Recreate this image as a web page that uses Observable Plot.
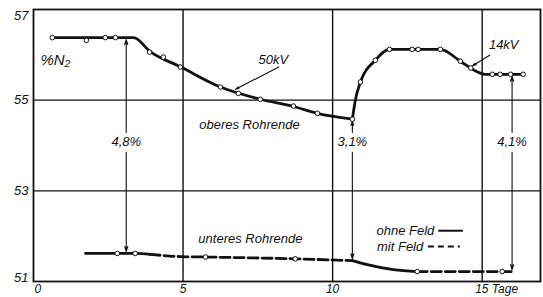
<!DOCTYPE html>
<html><head><meta charset="utf-8">
<script src="https://cdn.jsdelivr.net/npm/d3@7"></script>
<script src="https://cdn.jsdelivr.net/npm/@observablehq/plot@0.6"></script>
<style>body{margin:0;background:#fff}#chart{width:543px;height:297px}</style>
</head><body><div id="chart"></div>
<script>
// ---- data ----
const yTicks = [51, 53, 55, 57];
const xTicks = [0, 5, 10, 15];
const xTickLabels = ["0", "5", "10", "15 Tage"];
const gridDays = [5, 10, 15];
const gridN2 = [53, 55];

// upper tube end (oberes Rohrende): fitted curve, two branches
const upperFitDays = [0.63, 3.35, 3.9, 4.9, 6.25, 7.58, 8.69, 9.49, 10.66,
                      10.66, 10.76, 10.93, 11.43, 11.9, 13.6, 14.27, 14.85, 15.1, 16.37];
const upperFitN2   = [56.38, 56.38, 56.07, 55.74, 55.29, 55.02, 54.86, 54.71, 54.58,
                      54.58, 55.0, 55.4, 55.88, 56.12, 56.12, 55.86, 55.62, 55.57, 55.57];
const upperFitBranch = [1,1,1,1,1,1,1,1,1, 2,2,2,2,2,2,2,2,2,2];
// upper measured points
const upperPtDays = [0.63, 1.77, 2.4, 2.74, 3.88, 4.34, 4.91, 6.25, 6.85, 7.58, 8.69, 9.49, 10.66,
                     10.93, 11.43, 11.9, 12.66, 12.86, 13.6, 14.27, 14.62, 15.34, 15.6, 15.95, 16.37];
const upperPtN2   = [56.38, 56.32, 56.38, 56.38, 56.06, 55.95, 55.73, 55.29, 55.15, 55.02, 54.87, 54.71, 54.58,
                     55.40, 55.88, 56.12, 56.12, 56.12, 56.12, 55.86, 55.71, 55.57, 55.57, 55.57, 55.57];

// lower tube end (unteres Rohrende)
const lowerDays = [1.74, 2.8, 3.4, 3.9, 4.9, 5.75, 8.75, 10.66, 11.16, 12.03, 12.83, 15.67, 16.04];
const lowerN2   = [51.62, 51.62, 51.62, 51.6, 51.55, 51.54, 51.5, 51.46, 51.37, 51.26, 51.22, 51.22, 51.22];
const lowerPtDays = [2.8, 3.4, 5.75, 8.75, 12.83, 15.67];
const lowerPtN2   = [51.62, 51.62, 51.54, 51.5, 51.22, 51.22];
// periods with field (mit Feld, dashed on the lower curve)
const fieldStart = [3.9, 12.83];
const fieldEnd   = [10.66, 16.04];

// difference annotations
const diffLabels = ["4,8%", "3,1%", "4,1%"];
const diffDays   = [3.1, 10.66, 16.0];
const diffTop    = [56.38, 54.58, 55.57];
const diffBottom = [51.62, 51.46, 51.22];
const diffLabelN2 = 54.07;

// voltage labels with pointers
const kvLabels = ["50kV", "14kV"];
const kvDay = [8.02, 15.72];
const kvN2 = [55.88, 56.21];
const kvFromDay = [8.2, 15.25];
const kvFromN2 = [55.73, 55.99];
const kvToDay = [6.75, 14.68];
const kvToN2 = [55.24, 55.76];

// region labels
const regionLabels = ["oberes Rohrende", "unteres Rohrende"];
const regionDays = [7.22, 7.25];
const regionN2 = [54.45, 51.95];
const unitLabel = "%N\u2082";
const unitDay = 0.73;
const unitN2 = 55.88;

// legend
const legendLabels = ["ohne Feld", "mit Feld"];
const legendN2 = [52.12, 51.77];
const legendTextEnd = [13.4, 13.03];
const legendLineStart = [13.55, 13.2];
const legendLineEnd = [14.37, 14.27];

// ---- build tables ----
const upperFit = upperFitDays.map((d, i) => ({day: d, n2: upperFitN2[i], b: upperFitBranch[i]}));
const upperPts = upperPtDays.map((d, i) => ({day: d, n2: upperPtN2[i]}));
const lowerPts = lowerPtDays.map((d, i) => ({day: d, n2: lowerPtN2[i]}));
const inField = t => fieldStart.some((s, k) => t > s && t < fieldEnd[k]);
const lowerRuns = [];
for (let i = 0; i < lowerDays.length - 1; i++) {
  const mid = (lowerDays[i] + lowerDays[i + 1]) / 2;
  const f = inField(mid);
  let run = lowerRuns[lowerRuns.length - 1];
  if (!run || run.f !== f) { run = {f, id: lowerRuns.length, pts: [{day: lowerDays[i], n2: lowerN2[i]}]}; lowerRuns.push(run); }
  run.pts.push({day: lowerDays[i + 1], n2: lowerN2[i + 1]});
}
const lowerSolid = lowerRuns.filter(r => !r.f).flatMap(r => r.pts.map(p => ({...p, id: r.id})));
const lowerDashed = lowerRuns.filter(r => r.f).flatMap(r => r.pts.map(p => ({...p, id: r.id})));

const arrows = diffDays.flatMap((d, i) => [
  {x: d, y1: diffLabelN2 + 0.22, y2: diffTop[i]},
  {x: d, y1: diffLabelN2 - 0.22, y2: diffBottom[i]}
]);
const diffs = diffLabels.map((t, i) => ({t, day: diffDays[i]}));
const kvs = kvLabels.map((t, i) => ({t, day: kvDay[i], n2: kvN2[i], x1: kvFromDay[i], y1: kvFromN2[i], x2: kvToDay[i], y2: kvToN2[i]}));
const regions = regionLabels.map((t, i) => ({t, day: regionDays[i], n2: regionN2[i]}));
const legend = legendLabels.map((t, i) => ({t, n2: legendN2[i], xe: legendTextEnd[i], x1: legendLineStart[i], x2: legendLineEnd[i]}));
const xt = xTicks.map((v, i) => ({v, t: xTickLabels[i]}));

const font = {fontStyle: "italic", fontSize: 13};
const tickFont = {fontStyle: "italic", fontSize: 12};

const chart = Plot.plot({
  width: 543, height: 297,
  marginLeft: 33, marginRight: 3, marginTop: 9, marginBottom: 16,
  x: {domain: [0, 16.95], axis: null},
  y: {domain: [51, 57], axis: null},
  style: {fontFamily: "'Liberation Sans', Arial, sans-serif", background: "#fff", color: "#111"},
  marks: [
    Plot.ruleX(gridDays, {x: d => d, stroke: "#111", strokeWidth: 1.4}),
    Plot.ruleY(gridN2, {y: d => d, stroke: "#111", strokeWidth: 1.4}),
    Plot.frame({stroke: "#111", strokeWidth: 1.8}),
    // y tick labels
    Plot.text(yTicks.filter(v => v === 53 || v === 55), {x: 0, y: d => d, text: d => String(d), textAnchor: "end", dx: -5, ...font}),
    Plot.text(yTicks.filter(v => v === 57), {x: 0, y: d => d, text: d => String(d), textAnchor: "end", dx: -5, dy: 6, ...font}),
    Plot.text(yTicks.filter(v => v === 51), {x: 0, y: d => d, text: d => String(d), textAnchor: "end", dx: -5, dy: -4, ...font}),
    // x tick labels
    Plot.text(xt.filter(d => d.v === 0), {x: "v", y: 51, text: "t", textAnchor: "start", dy: 8, dx: 1, ...tickFont}),
    Plot.text(xt.filter(d => d.v === 5 || d.v === 10), {x: "v", y: 51, text: "t", textAnchor: "middle", dy: 8, ...tickFont}),
    Plot.text(xt.filter(d => d.v === 15), {x: "v", y: 51, text: "t", textAnchor: "start", dy: 8, dx: -7, ...tickFont}),
    // curves
    Plot.line(upperFit, {x: "day", y: "n2", z: "b", curve: "monotone-x", stroke: "#111", strokeWidth: 2.8}),
    Plot.line(lowerSolid, {x: "day", y: "n2", z: "id", curve: "monotone-x", stroke: "#111", strokeWidth: 2.8}),
    Plot.line(lowerDashed, {x: "day", y: "n2", z: "id", curve: "monotone-x", stroke: "#111", strokeWidth: 2.8, strokeDasharray: "10,4"}),
    // difference arrows
    Plot.arrow(arrows, {x1: "x", x2: "x", y1: "y1", y2: "y2", stroke: "#111", strokeWidth: 1.1, headLength: 7, headAngle: 35, insetEnd: 2}),
    Plot.text(diffs, {x: "day", y: diffLabelN2, text: "t", ...font}),
    // kV pointers
    Plot.arrow(kvs, {x1: "x1", y1: "y1", x2: "x2", y2: "y2", stroke: "#111", strokeWidth: 1.1, headLength: 5, headAngle: 30}),
    Plot.text(kvs, {x: "day", y: "n2", text: "t", ...font}),
    // markers
    Plot.dot(upperPts, {x: "day", y: "n2", r: 2.3, fill: "#fff", stroke: "#111", strokeWidth: 1}),
    Plot.dot(lowerPts, {x: "day", y: "n2", r: 2.3, fill: "#fff", stroke: "#111", strokeWidth: 1}),
    // region labels
    Plot.text(regions, {x: "day", y: "n2", text: "t", ...font}),
    Plot.text([unitLabel], {x: unitDay, y: unitN2, text: d => d, fontStyle: "italic", fontSize: 15}),
    // legend
    Plot.text(legend, {x: "xe", y: "n2", text: "t", textAnchor: "end", ...font}),
    Plot.ruleY(legend.filter(d => d.t === "ohne Feld"), {x1: "x1", x2: "x2", y: "n2", stroke: "#111", strokeWidth: 2}),
    Plot.ruleY(legend.filter(d => d.t === "mit Feld"), {x1: "x1", x2: "x2", y: "n2", stroke: "#111", strokeWidth: 2, strokeDasharray: "6,4"})
  ]
});
document.getElementById("chart").appendChild(chart);
</script>
</body></html>
